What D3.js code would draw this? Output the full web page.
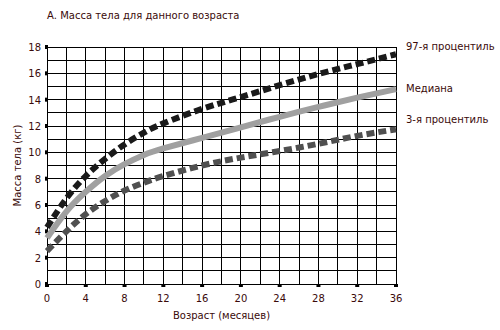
<!DOCTYPE html>
<html>
<head>
<meta charset="utf-8">
<script src="https://cdn.jsdelivr.net/npm/d3@7"></script>
<style>
  body { margin: 0; background: #fff; }
  text { font-family: "DejaVu Sans", Verdana, sans-serif; font-size: 10px; fill: #3a0a0a; }
</style>
</head>
<body>
<div id="chart"></div>
<script>
// age in months
const months = [0, 2, 4, 6, 8, 10, 12, 16, 20, 24, 28, 32, 36];
const p97    = [4.3, 6.5, 8.2, 9.5, 10.6, 11.5, 12.2, 13.3, 14.2, 15.1, 15.95, 16.7, 17.45];
const median = [3.5, 5.5, 7.0, 8.2, 9.1, 9.8, 10.3, 11.1, 11.9, 12.7, 13.45, 14.15, 14.8];
const p3     = [2.5, 4.0, 5.3, 6.3, 7.1, 7.7, 8.2, 9.0, 9.6, 10.1, 10.65, 11.25, 11.75];

const xTicks = [0, 4, 8, 12, 16, 20, 24, 28, 32, 36];
const yTicks = [0, 2, 4, 6, 8, 10, 12, 14, 16, 18];
const seriesNames = ["97-я процентиль", "Медиана", "3-я процентиль"];

const width = 500, height = 330;
const margin = { left: 47, right: 104, top: 47, bottom: 46 };

const svg = d3.select("#chart").append("svg")
  .attr("width", width)
  .attr("height", height);

const x = d3.scaleLinear().domain([0, 36]).range([margin.left, width - margin.right]);
const y = d3.scaleLinear().domain([0, 18]).range([height - margin.bottom, margin.top]);

// grid
const grid = svg.append("g").attr("shape-rendering", "crispEdges");
grid.selectAll(".vl")
  .data(d3.range(0, 37, 2))
  .enter().append("line")
  .attr("x1", d => x(d)).attr("x2", d => x(d))
  .attr("y1", y(0)).attr("y2", y(18))
  .attr("stroke", "#000").attr("stroke-width", 1);
grid.selectAll(".hl")
  .data(d3.range(0, 19, 1))
  .enter().append("line")
  .attr("x1", x(0)).attr("x2", x(36))
  .attr("y1", d => y(d)).attr("y2", d => y(d))
  .attr("stroke", "#000").attr("stroke-width", 1);

// tick markers (small squares) and labels
svg.selectAll(".ytm")
  .data(yTicks)
  .enter().append("rect")
  .attr("x", x(0) - 2).attr("y", d => y(d) - 2)
  .attr("width", 3).attr("height", 4)
  .attr("fill", "#000");
svg.selectAll(".xtm")
  .data(xTicks)
  .enter().append("rect")
  .attr("x", d => x(d) - 2).attr("y", y(0))
  .attr("width", 4).attr("height", 3)
  .attr("fill", "#000");

svg.selectAll(".ylab")
  .data(yTicks)
  .enter().append("text")
  .attr("x", x(0) - 6).attr("y", d => y(d) + 4)
  .attr("text-anchor", "end")
  .text(d => d);
svg.selectAll(".xlab")
  .data(xTicks)
  .enter().append("text")
  .attr("x", d => x(d)).attr("y", y(0) + 18)
  .attr("text-anchor", "middle")
  .text(d => d);

// curves
const line = d3.line()
  .x(d => x(d[0]))
  .y(d => y(d[1]))
  .curve(d3.curveNatural);

const series = [
  { vals: p3,     color: "#505050", dash: "8,4" },
  { vals: median, color: "#a0a0a0", dash: null },
  { vals: p97,    color: "#1a1a1a", dash: "8,4" }
];

series.forEach(s => {
  svg.append("path")
    .datum(months.map((m, i) => [m, s.vals[i]]))
    .attr("d", line)
    .attr("fill", "none")
    .attr("stroke", s.color)
    .attr("stroke-width", 6)
    .attr("stroke-dasharray", s.dash);
});

// series labels at right
const labelY = [18.1, 14.9, 12.5];
svg.selectAll(".slab")
  .data(seriesNames)
  .enter().append("text")
  .attr("x", x(36) + 10)
  .attr("y", (d, i) => y(labelY[i]) + 4)
  .text(d => d);

// titles
svg.append("text")
  .attr("x", x(0)).attr("y", 19)
  .text("А. Масса тела для данного возраста");

svg.append("text")
  .attr("x", (x(0) + x(36)) / 2).attr("y", y(0) + 35)
  .attr("text-anchor", "middle")
  .text("Возраст (месяцев)");

svg.append("text")
  .attr("transform", `translate(21, ${y(9)}) rotate(-90)`)
  .attr("text-anchor", "middle")
  .text("Масса тела (кг)");
</script>
</body>
</html>
